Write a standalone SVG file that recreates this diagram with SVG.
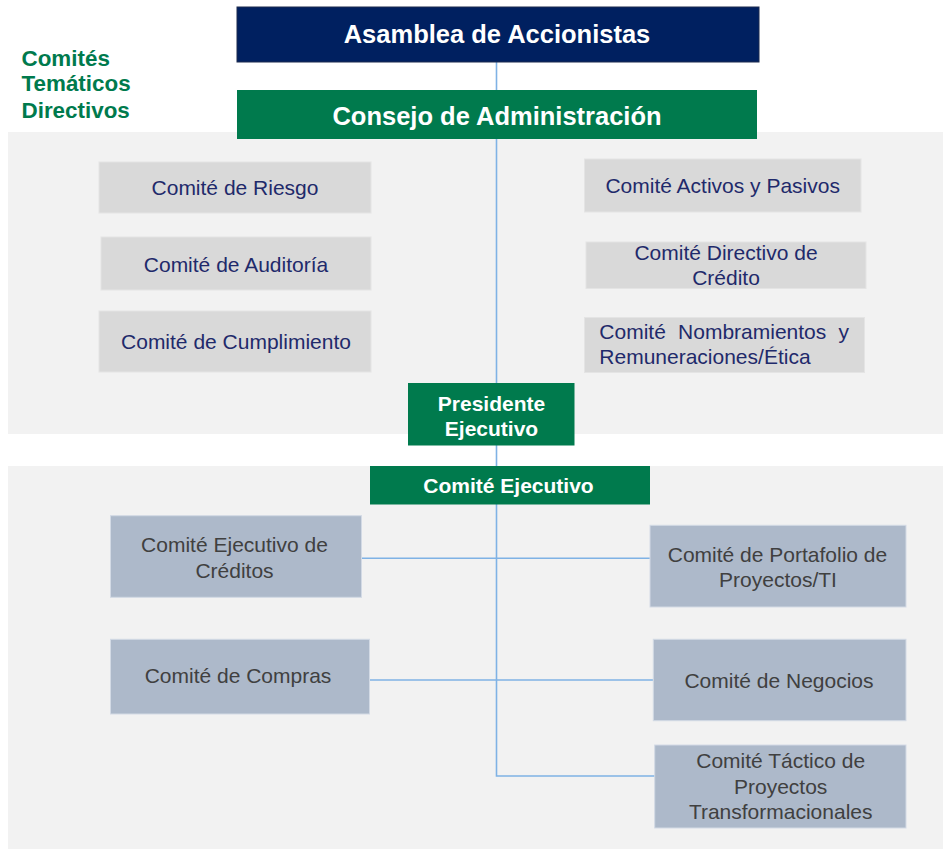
<svg xmlns="http://www.w3.org/2000/svg" width="943" height="849" viewBox="0 0 943 849">
<style>
text{font-family:"Liberation Sans",Arial,sans-serif;}
.panel{fill:#f2f2f2;}
.navy{fill:#002060;stroke:#1c2b4f;stroke-width:1;}
.green{fill:#007a4d;}
.gbox{fill:#d9d9d9;stroke:#e4e4e4;stroke-width:1;}
.bbox{fill:#adb9ca;stroke:#d3dae5;stroke-width:1;}
.ttl{fill:#ffffff;font-weight:bold;font-size:25.5px;text-anchor:middle;}
.hdr{fill:#ffffff;font-weight:bold;font-size:21px;text-anchor:middle;}
.gt{fill:#1f2a6b;font-size:21px;text-anchor:middle;}
.bt{fill:#404040;font-size:21px;text-anchor:middle;}
.lbl{fill:#007a4d;font-weight:bold;font-size:22.4px;}
.conn{stroke:#7fb2e5;stroke-width:1.6;fill:none;}
</style>
<g id="panels">
<rect class="panel" x="8" y="132" width="935" height="302"/>
<rect class="panel" x="8" y="466" width="935" height="383"/>
</g>
<g id="label-comites">
<text class="lbl" x="21.5" y="66">Comités</text>
<text class="lbl" x="21.5" y="91">Temáticos</text>
<text class="lbl" x="21.5" y="118">Directivos</text>
</g>
<g id="connectors">
<path class="conn" d="M496.5,62 V776 H655"/>
<path class="conn" d="M361.5,558.3 H650"/>
<path class="conn" d="M369.5,680 H653"/>
</g>
<g id="asamblea">
<rect class="navy" x="237" y="7" width="522" height="55"/>
<text class="ttl" x="497" y="43">Asamblea de Accionistas</text>
</g>
<g id="consejo">
<rect class="green" x="237" y="90" width="520" height="49"/>
<text class="ttl" x="497" y="125">Consejo de Administración</text>
</g>
<g id="riesgo">
<rect class="gbox" x="99" y="162" width="272" height="51"/>
<text class="gt" x="235" y="195">Comité de Riesgo</text>
</g>
<g id="auditoria">
<rect class="gbox" x="101" y="237" width="270" height="53"/>
<text class="gt" x="236" y="271.5">Comité de Auditoría</text>
</g>
<g id="cumplimiento">
<rect class="gbox" x="99" y="311" width="272" height="61"/>
<text class="gt" x="236" y="349.3">Comité de Cumplimiento</text>
</g>
<g id="activos">
<rect class="gbox" x="584.5" y="159" width="276.5" height="53"/>
<text class="gt" x="722.7" y="193.3">Comité Activos y Pasivos</text>
</g>
<g id="directivo-credito">
<rect class="gbox" x="586" y="242" width="280" height="46.5"/>
<text class="gt" x="726" y="260">Comité Directivo de</text>
<text class="gt" x="726" y="285">Crédito</text>
</g>
<g id="nombramientos">
<rect class="gbox" x="584.5" y="317.5" width="280" height="55"/>
<text class="gt" x="599.3" y="339" style="text-anchor:start;word-spacing:6.4px">Comité Nombramientos y</text>
<text class="gt" x="599.3" y="364.3" style="text-anchor:start">Remuneraciones/Ética</text>
</g>
<g id="presidente">
<rect class="green" x="408" y="383" width="166.5" height="62.5"/>
<text class="hdr" x="491.5" y="410.7">Presidente</text>
<text class="hdr" x="491.5" y="436">Ejecutivo</text>
</g>
<g id="comite-ejecutivo">
<rect class="green" x="370" y="466" width="280" height="38.5"/>
<text class="hdr" x="508.5" y="493.3">Comité Ejecutivo</text>
</g>
<g id="ejecutivo-creditos">
<rect class="bbox" x="110.5" y="515.7" width="251" height="81.6"/>
<text class="bt" x="234.5" y="552.3">Comité Ejecutivo de</text>
<text class="bt" x="234.5" y="577.7">Créditos</text>
</g>
<g id="compras">
<rect class="bbox" x="110.5" y="639.3" width="259" height="74.7"/>
<text class="bt" x="238" y="683.3">Comité de Compras</text>
</g>
<g id="portafolio">
<rect class="bbox" x="650" y="525.3" width="256" height="81.7"/>
<text class="bt" x="777.5" y="561.7">Comité de Portafolio de</text>
<text class="bt" x="778" y="587.3">Proyectos/TI</text>
</g>
<g id="negocios">
<rect class="bbox" x="653.3" y="639.3" width="252.7" height="81.4"/>
<text class="bt" x="779" y="688.3">Comité de Negocios</text>
</g>
<g id="tactico">
<rect class="bbox" x="654.7" y="745" width="251.3" height="83"/>
<text class="bt" x="780.7" y="768.3">Comité Táctico de</text>
<text class="bt" x="780.7" y="794">Proyectos</text>
<text class="bt" x="780.7" y="819.3">Transformacionales</text>
</g>
</svg>
